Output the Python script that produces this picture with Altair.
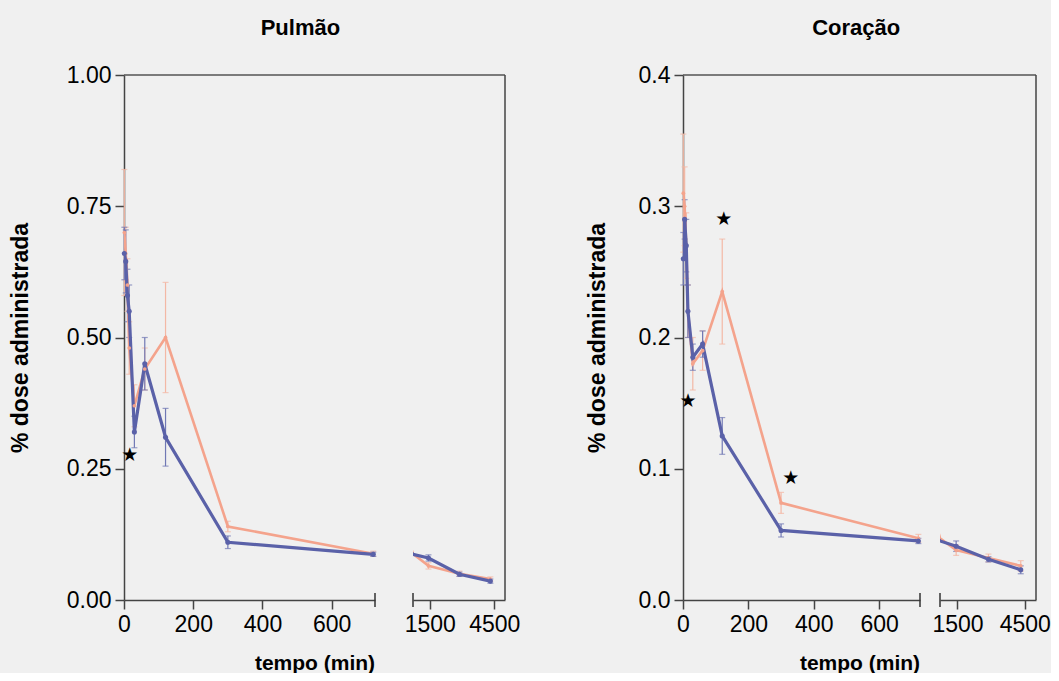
import altair as alt
import pandas as pd

# ---------------- data ----------------
times = [1, 5, 10, 15, 30, 60, 120, 300, 720, 1440, 2880, 4320]

pul_azul = [0.66, 0.645, 0.58, 0.55, 0.32, 0.45, 0.31, 0.11, 0.087, 0.080, 0.049, 0.036]
pul_azul_err = [0.05, 0.06, 0.05, 0.05, 0.03, 0.05, 0.055, 0.012, 0.004, 0.006, 0.004, 0.004]
pul_laranja = [0.70, 0.66, 0.60, 0.48, 0.37, 0.44, 0.50, 0.14, 0.088, 0.065, 0.050, 0.040]
pul_laranja_err = [0.12, 0.05, 0.05, 0.05, 0.04, 0.04, 0.105, 0.01, 0.005, 0.006, 0.005, 0.004]
pul_star_t = [17]
pul_star_v = [0.276]

cor_azul = [0.26, 0.29, 0.27, 0.22, 0.185, 0.195, 0.125, 0.053, 0.045, 0.041, 0.031, 0.023]
cor_azul_err = [0.02, 0.015, 0.02, 0.02, 0.01, 0.01, 0.014, 0.005, 0.002, 0.004, 0.002, 0.003]
cor_laranja = [0.31, 0.30, 0.27, 0.22, 0.18, 0.19, 0.235, 0.074, 0.047, 0.038, 0.032, 0.026]
cor_laranja_err = [0.045, 0.03, 0.025, 0.02, 0.02, 0.015, 0.04, 0.008, 0.003, 0.004, 0.003, 0.004]
cor_star_t = [15, 125, 330]
cor_star_v = [0.152, 0.29, 0.093]

x_main_ticks = [0, 200, 400, 600]
x_late_ticks = [1500, 4500]

BLUE = "#5a61a8"
ORANGE = "#f4a38c"
BLUE_ERR = "#7078b4"
ORANGE_ERR = "#f3b8a5"
H = 525
FONT = "Liberation Sans"


def panel(title, az, aze, la, lae, st_t, st_v, ymax, yvals, yfmt,
          w1, gap, w2, ytitle_x, title_dx):
    rows = []
    for t, v, e in zip(times, la, lae):
        rows.append(dict(t=t, v=v, lo=v - e, hi=v + e, s="laranja"))
    for t, v, e in zip(times, az, aze):
        rows.append(dict(t=t, v=v, lo=v - e, hi=v + e, s="azul"))
    df = pd.DataFrame(rows)
    stars = pd.DataFrame({"t": st_t, "v": st_v})
    one = pd.DataFrame({"k": [0]})
    yscale = alt.Scale(domain=[0, ymax], nice=False, zero=True)

    def section(domain, tmin, tmax, width, xaxis, yaxis, extra):
        xs = alt.Scale(domain=domain, nice=False, zero=False)

        def X():
            return alt.X("t:Q", scale=xs, axis=xaxis)

        def Y(f):
            if yaxis is None:
                return alt.Y(f, scale=yscale, axis=None)
            return alt.Y(f, scale=yscale, axis=yaxis)

        sub = alt.Chart(df).transform_filter(
            (alt.datum.t >= tmin) & (alt.datum.t <= tmax)
        )
        layers = []
        for s, ecol in [("laranja", ORANGE_ERR), ("azul", BLUE_ERR)]:
            f = sub.transform_filter(alt.datum.s == s)
            layers.append(f.mark_rule(color=ecol, strokeWidth=1.2).encode(
                x=X(), y=Y("lo:Q"), y2="hi:Q"))
            layers.append(f.mark_tick(color=ecol, orient="horizontal", size=6,
                                      thickness=1.2).encode(x=X(), y=Y("hi:Q")))
            layers.append(f.mark_tick(color=ecol, orient="horizontal", size=6,
                                      thickness=1.2).encode(x=X(), y=Y("lo:Q")))
        for s, col, lw in [("laranja", ORANGE, 2.6), ("azul", BLUE, 3.2)]:
            layers.append(alt.Chart(df).transform_filter(alt.datum.s == s)
                          .mark_line(color=col, strokeWidth=lw, clip=True)
                          .encode(x=X(), y=Y("v:Q"), order="t:Q"))
        for s, col, ps in [("laranja", ORANGE, 14), ("azul", BLUE, 26)]:
            layers.append(sub.transform_filter(alt.datum.s == s)
                          .mark_circle(color=col, size=ps, opacity=1)
                          .encode(x=X(), y=Y("v:Q")))
        layers.extend(extra(X, Y))
        return alt.layer(*layers).properties(width=width, height=H)

    main_xaxis = alt.Axis(values=x_main_ticks, title="tempo (min)",
                          titleX=(w1 + gap + w2) / 2, titleY=52,
                          labelFlush=False, labelOverlap=False, grid=False)
    late_xaxis = alt.Axis(values=x_late_ticks, title="", format="d",
                          labelFlush=False, labelOverlap=False, grid=False)
    yaxis = alt.Axis(values=yvals, format=yfmt, title="% dose administrada",
                     grid=False, titleX=ytitle_x, titleY=H / 2, titleFontSize=23)

    def main_extra(X, Y):
        return [
            alt.Chart(stars).mark_text(text="★", font="DejaVu Sans", fontSize=19,
                                       color="black", baseline="middle")
            .encode(x=X(), y=Y("v:Q")),
            alt.Chart(one).mark_rule(color="#555", strokeWidth=1.5).encode(
                x=alt.value(0), x2=alt.value(w1 + gap), y=alt.value(0)),
            alt.Chart(one).mark_rule(color="#333", strokeWidth=1.5).encode(
                x=alt.value(w1), y=alt.value(H - 7), y2=alt.value(H + 7)),
        ]

    def late_extra(X, Y):
        return [
            alt.Chart(one).mark_rule(color="#555", strokeWidth=1.5).encode(
                x=alt.value(0), x2=alt.value(w2), y=alt.value(0)),
            alt.Chart(one).mark_rule(color="#444", strokeWidth=1.5).encode(
                x=alt.value(w2), y=alt.value(0), y2=alt.value(H)),
            alt.Chart(one).mark_rule(color="#333", strokeWidth=1.5).encode(
                x=alt.value(0), y=alt.value(H - 7), y2=alt.value(H + 7)),
        ]

    main = section([0, 725], 0, 725, w1, main_xaxis, yaxis, main_extra)
    late = section([720, 5000], 1000, 5000, w2, late_xaxis, None, late_extra)
    return alt.hconcat(main, late, spacing=gap, bounds="flush").properties(
        title=alt.TitleParams(title, anchor="middle", fontSize=22,
                              fontWeight="bold", font=FONT, offset=24,
                              dx=title_dx)
    )


left = panel("Pulmão", pul_azul, pul_azul_err, pul_laranja, pul_laranja_err,
             pul_star_t, pul_star_v, 1.0, [0, 0.25, 0.5, 0.75, 1.0], ".2f",
             251, 38, 92, -92, 36)
right = panel("Coração", cor_azul, cor_azul_err, cor_laranja, cor_laranja_err,
              cor_star_t, cor_star_v, 0.4, [0, 0.1, 0.2, 0.3, 0.4], ".1f",
              237, 20, 96, -74, 38)

chart = alt.hconcat(left, right, spacing=66).properties(
    background="#f0f0f0",
    padding={"left": 9, "top": 17, "right": 0, "bottom": 0},
).configure_view(stroke=None).configure_axis(
    labelFont=FONT, titleFont=FONT, labelFontSize=23, titleFontSize=21,
    titleFontWeight="bold", labelColor="black", titleColor="black",
    domainColor="#444", tickColor="#444", domainWidth=1.5, tickWidth=1.5,
    tickSize=9, labelPadding=4,
)

chart.save("out.html", embed_options={"renderer": "svg", "actions": False})
